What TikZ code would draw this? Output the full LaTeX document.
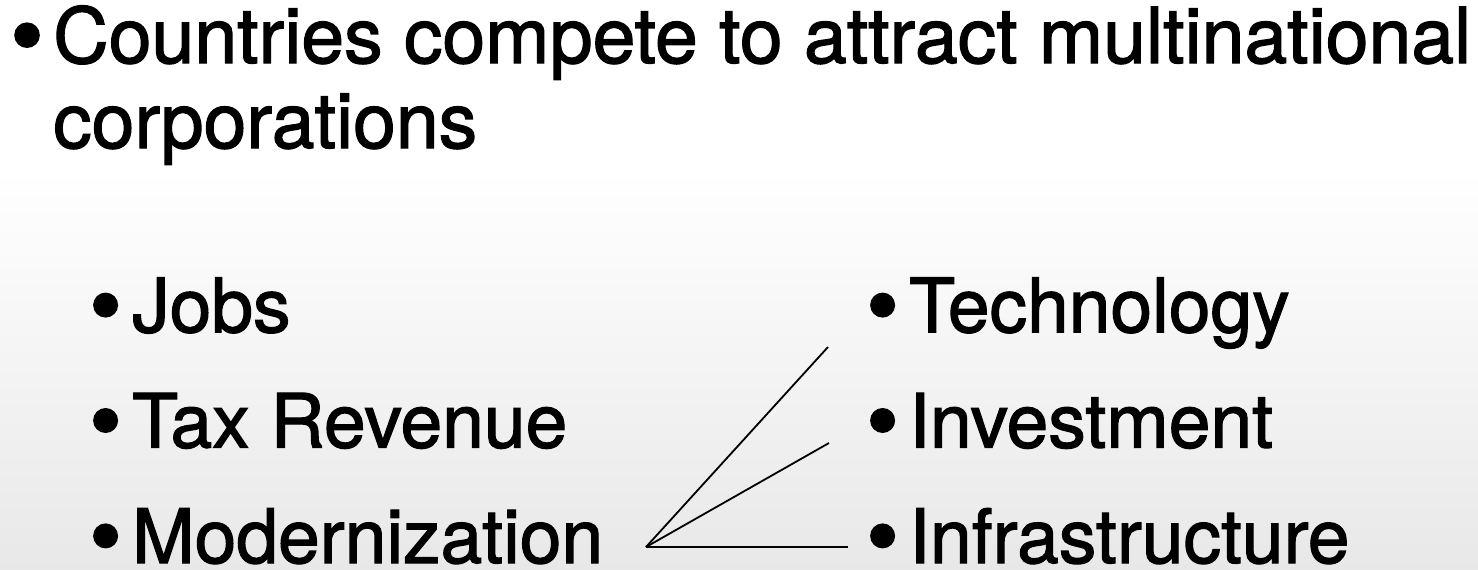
\documentclass[tikz,border=0pt]{standalone}
\usepackage{fontspec}
\setmainfont{TeX Gyre Heros}[FakeBold=1.6]
\usetikzlibrary{positioning}
\newlength{\bulwd}
\setlength{\bulwd}{41pt}
\newcommand{\bul}{\makebox[\bulwd][l]{\hspace*{-2pt}\raisebox{-0.07em}{\scalebox{1.25}{\textbullet}}}}

\begin{document}
\begin{tikzpicture}[x=1pt,y=-1pt,
  point/.style={anchor=base west,inner sep=0pt,font=\fontsize{77}{85}\selectfont},
  subpoint/.style={anchor=north west,inner sep=0pt,text height=54pt,text depth=4pt,font=\fontsize{75}{75}\selectfont},
  link/.style={line width=1.8pt}]
\useasboundingbox (0,0) rectangle (1478,570);
\shade[top color=white,bottom color=black!9] (0,170) rectangle (1478,570);

% main point
\node	[point]	(ctry)	at (12,63)	{\bul Countries compete to attract multinational};
\node	[point]	(corp)	at (12,148)	{\hspace*{\bulwd}corporations};

% left column
\node	[subpoint]	(jobs)	at (91,278)	{\bul Jobs};
\node	[subpoint]	(tax)	[below=57pt of jobs.south west,anchor=north west]	{\bul Tax Revenue};
\node	[subpoint]	(mod)	[below=57pt of tax.south west,anchor=north west]	{\bul Modernization};

% right column
\node	[subpoint]	(tech)	at (868,278)	{\bul Technology};
\node	[subpoint]	(inv)	[below=57pt of tech.south west,anchor=north west]	{\bul Investment};
\node	[subpoint]	(infra)	[below=57pt of inv.south west,anchor=north west]	{\bul Infrastructure};

\coordinate (fork)	at (646,547);
\coordinate (toTech)	at (828,347);
\coordinate (toInv)	at (829,443);
\coordinate (toInfra)	at (848,547);

\draw	[link]	(fork) -- (toTech);
\draw	[link]	(fork) -- (toInv);
\draw	[link]	(fork) -- (toInfra);
\end{tikzpicture}
\end{document}
